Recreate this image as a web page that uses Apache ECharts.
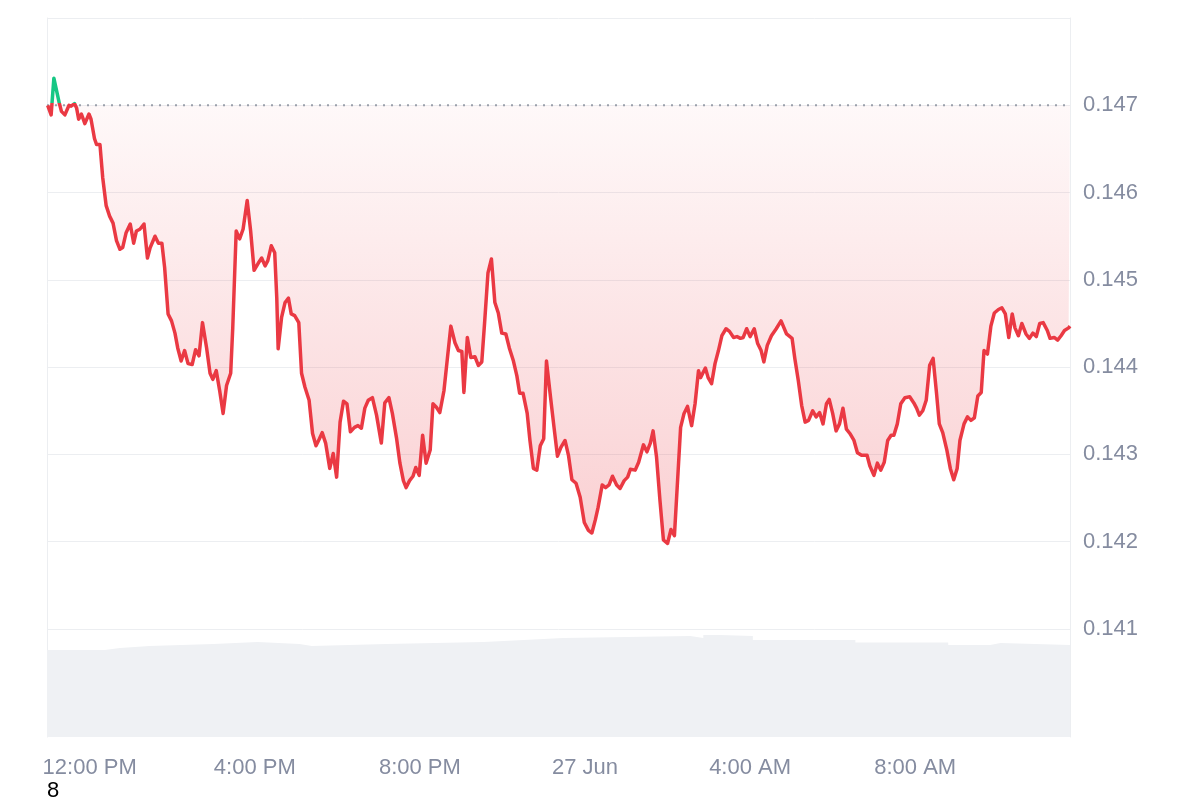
<!DOCTYPE html>
<html>
<head>
<meta charset="utf-8">
<script src="https://cdn.jsdelivr.net/npm/echarts@6/dist/echarts.min.js"></script>
<style>html,body{margin:0;padding:0;background:#fff;}#c{width:1200px;height:800px;}</style>
</head>
<body>
<div id="c"></div>
<script>
// minutes relative to 12:00 PM (26 Jun)
const priceMinutes = [-61,-56,-52,-44,-41,-36,-30,-27,-22,-19,-16,-12,-7,-1,2,7,10,15,19,24,29,34,39,44,48,53,59,64,68,73,79,84,88,95,100,105,109,114,119,124,128,133,138,143,149,154,159,164,170,175,179,184,189,194,199,205,208,213,218,223,229,234,239,245,250,255,259,264,269,272,274,279,284,289,293,298,304,308,313,319,324,329,334,338,343,349,354,359,364,369,374,379,385,390,395,400,405,411,417,424,429,435,440,446,451,456,460,465,470,474,479,484,489,495,499,504,509,515,520,525,531,536,541,544,549,554,560,565,570,574,579,584,589,594,599,605,610,616,621,625,630,636,640,645,650,655,660,664,670,675,680,685,691,696,701,707,713,719,725,730,735,739,745,750,755,760,766,771,777,782,786,793,798,805,810,815,819,824,829,834,840,845,850,854,859,864,869,875,880,885,888,895,899,904,909,914,919,925,930,936,941,946,950,955,960,966,971,976,980,985,991,998,1005,1013,1021,1025,1030,1035,1040,1045,1051,1056,1061,1066,1071,1075,1080,1085,1090,1095,1100,1105,1111,1116,1122,1130,1134,1140,1145,1150,1155,1160,1165,1169,1174,1179,1185,1192,1198,1202,1206,1211,1216,1221,1226,1231,1235,1240,1246,1251,1256,1261,1265,1271,1276,1281,1286,1291,1296,1300,1305,1310,1315,1321,1326,1331,1336,1341,1345,1350,1355,1361,1366,1371,1376,1381,1386,1392,1396,1402,1407,1412,1417,1423,1425];
const prices = [0.14700,0.14689,0.14731,0.14702,0.14693,0.14689,0.14700,0.14699,0.14702,0.14697,0.14684,0.14690,0.14679,0.14690,0.14684,0.14662,0.14655,0.14655,0.14617,0.14585,0.14573,0.14565,0.14545,0.14535,0.14537,0.14554,0.14564,0.14542,0.14556,0.14558,0.14564,0.14525,0.14537,0.14550,0.14542,0.14542,0.14514,0.14461,0.14453,0.14439,0.14422,0.14407,0.14419,0.14404,0.14403,0.14420,0.14413,0.14451,0.14422,0.14393,0.14386,0.14396,0.14373,0.14347,0.14379,0.14393,0.14445,0.14556,0.14547,0.14558,0.14591,0.14556,0.14511,0.14519,0.14525,0.14516,0.14522,0.14539,0.14531,0.14479,0.14421,0.14457,0.14474,0.14479,0.14461,0.14459,0.14451,0.14393,0.14377,0.14362,0.14324,0.14310,0.14318,0.14325,0.14313,0.14284,0.14301,0.14274,0.14337,0.14361,0.14358,0.14326,0.14331,0.14333,0.14330,0.14353,0.14362,0.14365,0.14345,0.14313,0.14359,0.14365,0.14347,0.14319,0.14290,0.14270,0.14262,0.14270,0.14275,0.14285,0.14276,0.14322,0.14290,0.14305,0.14358,0.14354,0.14348,0.14373,0.14410,0.14447,0.14428,0.14419,0.14418,0.14371,0.14434,0.14411,0.14412,0.14402,0.14406,0.14450,0.14508,0.14524,0.14474,0.14462,0.14439,0.14438,0.14422,0.14407,0.14390,0.14370,0.14370,0.14347,0.14316,0.14284,0.14282,0.14310,0.14318,0.14407,0.14365,0.14331,0.14298,0.14308,0.14316,0.14299,0.14271,0.14267,0.14251,0.14222,0.14213,0.14210,0.14225,0.14239,0.14265,0.14262,0.14265,0.14275,0.14265,0.14261,0.14270,0.14274,0.14283,0.14282,0.14291,0.14311,0.14303,0.14313,0.14327,0.14297,0.14247,0.14202,0.14198,0.14214,0.14207,0.14262,0.14331,0.14347,0.14355,0.14333,0.14358,0.14396,0.14388,0.14399,0.14388,0.14381,0.14404,0.14419,0.14436,0.14444,0.14441,0.14434,0.14435,0.14433,0.14434,0.14444,0.14435,0.14444,0.14427,0.14419,0.14406,0.14425,0.14436,0.14444,0.14453,0.14438,0.14433,0.14410,0.14385,0.14356,0.14337,0.14339,0.14350,0.14343,0.14348,0.14335,0.14358,0.14363,0.14347,0.14327,0.14335,0.14353,0.14329,0.14324,0.14316,0.14302,0.14299,0.14299,0.14287,0.14276,0.14290,0.14282,0.14291,0.14316,0.14322,0.14322,0.14335,0.14358,0.14365,0.14366,0.14359,0.14353,0.14345,0.14350,0.14362,0.14402,0.14410,0.14370,0.14335,0.14325,0.14305,0.14284,0.14271,0.14284,0.14316,0.14335,0.14343,0.14339,0.14342,0.14367,0.14371,0.14419,0.14415,0.14447,0.14462,0.14466,0.14468,0.14461,0.14434,0.14461,0.14445,0.14436,0.14450,0.14438,0.14433,0.14439,0.14435,0.14450,0.14451,0.14442,0.14433,0.14434,0.14431,0.14436,0.14442,0.14445,0.14447];
const volumeMinutes = [-62,22,44,87,180,244,305,323,431,573,631,688,873,892,916,964,1113,1248,1309,1324,1425];
const volumeValues = [8.7,8.9,9.1,9.3,9.5,9.3,9.1,9.3,9.5,9.7,9.9,10.1,9.9,10.2,10.1,9.7,9.45,9.2,9.4,9.2,9.2];
const tickMinutes = [0,240,480,720,960,1200];
const tickLabels = ['12:00 PM','4:00 PM','8:00 PM','27 Jun','4:00 AM','8:00 AM'];
const referencePrice = 0.147;
const yTicks = {min:0.141, max:0.148, step:0.001};
const xMin = -62, xMax = 1425;

const n = Math.min(priceMinutes.length, prices.length);
const priceData = [];
for (let i = 0; i < n; i++) priceData.push([priceMinutes[i], prices[i]]);
const volData = volumeMinutes.map((m, i) => [m, volumeValues[i]]);
const baselineData = [[xMin, referencePrice], [xMax, referencePrice]];

// colour split of the line at the reference price (relative to the line's own bounding box)
const pMax = Math.max.apply(null, prices.slice(0, n));
const pMin = Math.min.apply(null, prices.slice(0, n));
const splitT = (pMax - referencePrice) / (pMax - pMin);
const UP = '#16c784', DOWN = '#ea3943';
const lineColor = new echarts.graphic.LinearGradient(0, 0, 0, 1, [
  {offset: 0, color: UP}, {offset: splitT, color: UP},
  {offset: splitT, color: DOWN}, {offset: 1, color: DOWN}
]);

const FONT = 'Liberation Sans';
const LABEL = '#858ca0';
const GRIDC = '#eceef1';

const chart = echarts.init(document.getElementById('c'), null, {renderer: 'canvas'});
chart.setOption({
  animation: false,
  backgroundColor: '#ffffff',
  grid: [
    {left: 47, right: 130, top: 18, height: 611},
    {left: 47, right: 130, top: 629, height: 108}
  ],
  xAxis: [
    {gridIndex: 0, type: 'value', min: xMin, max: xMax,
     axisLine: {show: false}, axisTick: {show: false}, axisLabel: {show: false}, splitLine: {show: false}},
    {gridIndex: 1, type: 'value', min: xMin, max: xMax,
     axisLine: {show: false}, axisTick: {show: false}, splitLine: {show: false},
     axisLabel: {customValues: tickMinutes, margin: 20, color: LABEL, fontSize: 22, fontFamily: FONT,
       formatter: v => { const k = tickMinutes.indexOf(Math.round(v)); return k >= 0 ? tickLabels[k] : ''; }}}
  ],
  yAxis: [
    {gridIndex: 0, type: 'value', position: 'right', min: yTicks.min, max: yTicks.max, interval: yTicks.step,
     axisLine: {show: true, onZero: false, lineStyle: {color: GRIDC}}, axisTick: {show: false},
     splitLine: {show: true, lineStyle: {color: GRIDC, width: 1}},
     axisLabel: {margin: 13, color: LABEL, fontSize: 22, fontFamily: FONT, showMaxLabel: false,
       formatter: v => v.toFixed(3)}},
    {gridIndex: 0, type: 'value', position: 'left', min: yTicks.min, max: yTicks.max, interval: yTicks.step,
     axisLine: {show: true, onZero: false, lineStyle: {color: GRIDC}}, axisTick: {show: false}, axisLabel: {show: false}, splitLine: {show: false}},
    {gridIndex: 1, type: 'value', position: 'right', min: 0, max: 10.8,
     axisLine: {show: true, onZero: false, lineStyle: {color: GRIDC}}, axisTick: {show: false}, axisLabel: {show: false}, splitLine: {show: false}},
    {gridIndex: 1, type: 'value', position: 'left', min: 0, max: 10.8,
     axisLine: {show: true, onZero: false, lineStyle: {color: GRIDC}}, axisTick: {show: false}, axisLabel: {show: false}, splitLine: {show: false}}
  ],
  series: [
    {
      name: 'volume', type: 'line', xAxisIndex: 1, yAxisIndex: 2, data: volData,
      step: 'end', showSymbol: false, silent: true, lineStyle: {width: 0},
      areaStyle: {color: '#eff1f4', opacity: 1}
    },
    {
      name: 'area', type: 'line', xAxisIndex: 0, yAxisIndex: 0, data: priceData,
      showSymbol: false, silent: true, lineStyle: {width: 0},
      areaStyle: {
        origin: referencePrice,
        opacity: 1,
        color: new echarts.graphic.LinearGradient(0, 0, 0, 1, [
          {offset: 0, color: 'rgba(234,57,67,0.02)'},
          {offset: 1, color: 'rgba(234,57,67,0.24)'}
        ])
      },
      z: 1
    },
    {
      name: 'baseline', type: 'line', xAxisIndex: 0, yAxisIndex: 0, data: baselineData,
      showSymbol: false, silent: true,
      lineStyle: {type: [2, 6], color: '#9aa0ab', width: 2},
      z: 2
    },
    {
      name: 'price', type: 'line', xAxisIndex: 0, yAxisIndex: 0, data: priceData,
      showSymbol: false, lineStyle: {width: 3.5, color: lineColor, join: 'round'}, z: 3
    }
  ],
  graphic: [{
    type: 'text', left: 47, top: 780,
    style: {text: '8', fill: '#000000', fontSize: 22, fontFamily: FONT}
  }]
});
</script>
</body>
</html>
